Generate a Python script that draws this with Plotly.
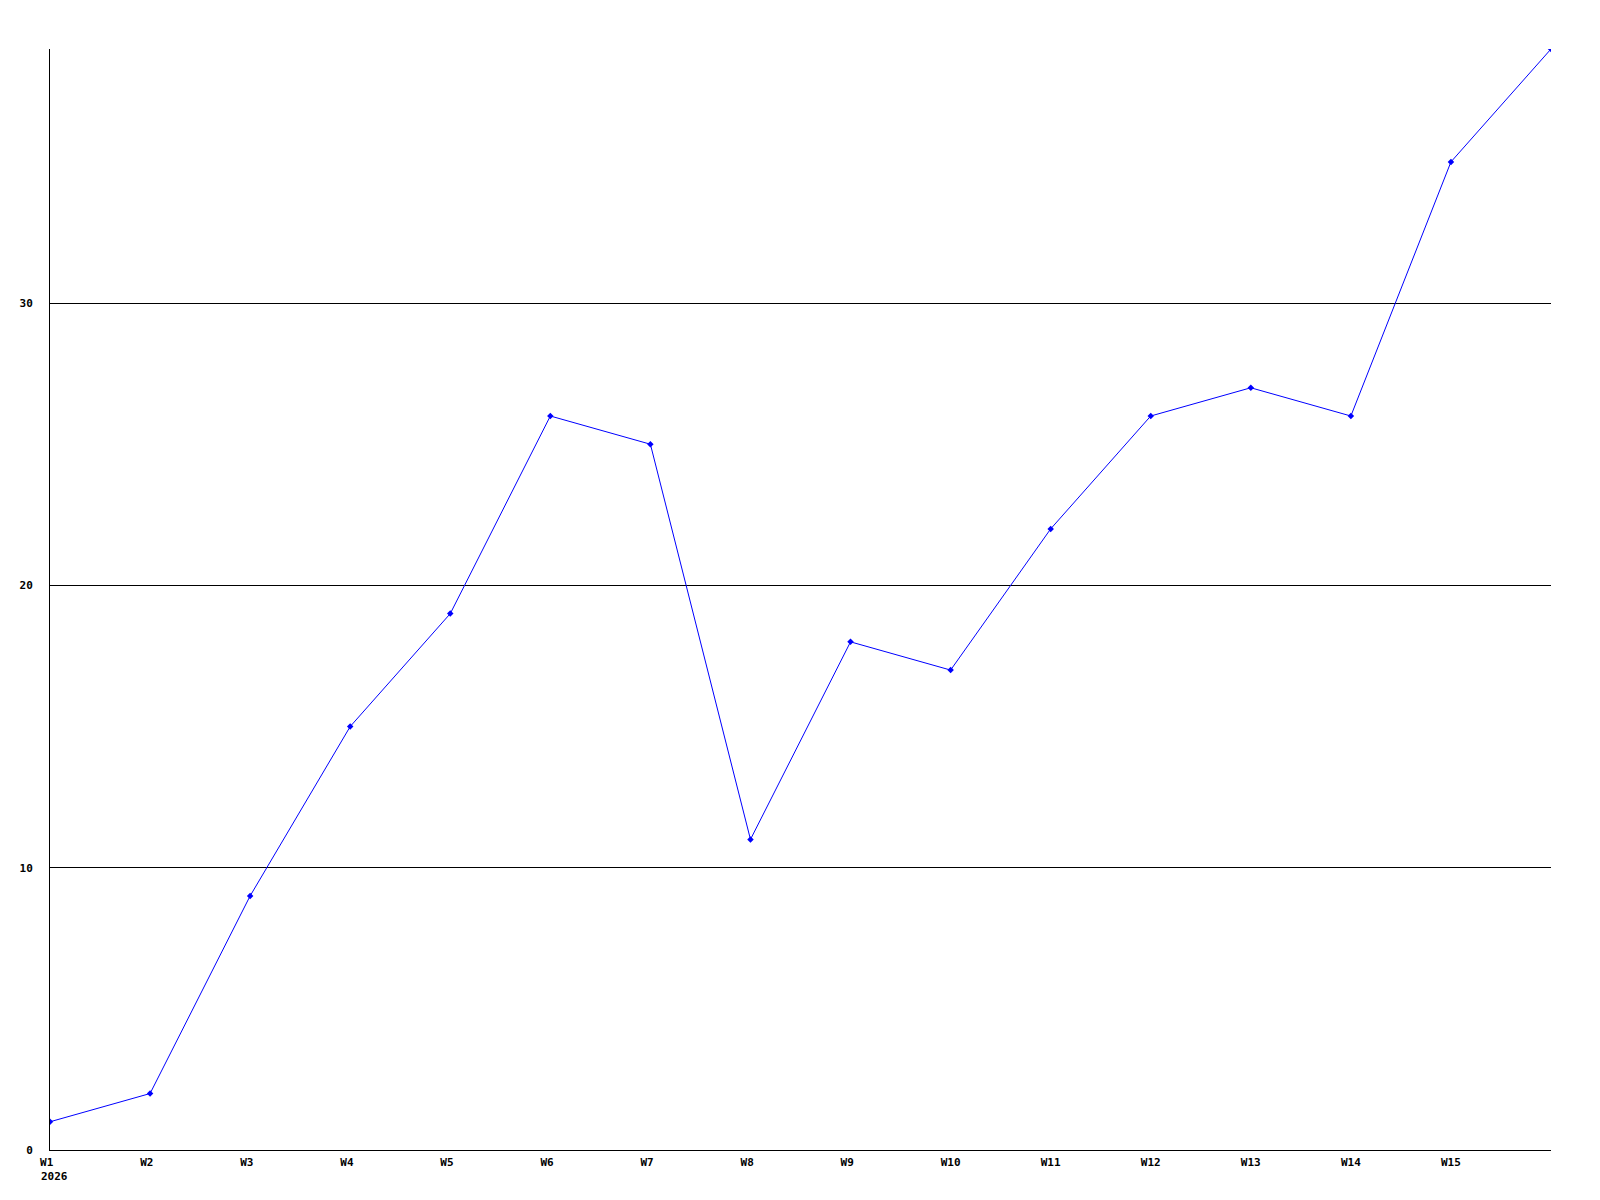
import plotly.graph_objects as go

weeks = ["W1", "W2", "W3", "W4", "W5", "W6", "W7", "W8", "W9", "W10",
         "W11", "W12", "W13", "W14", "W15", "W16"]
tick_labels = ["W1", "W2", "W3", "W4", "W5", "W6", "W7", "W8", "W9", "W10",
               "W11", "W12", "W13", "W14", "W15", ""]
values = [1, 2, 9, 15, 19, 26, 25, 11, 18, 17, 22, 26, 27, 26, 35, 39]
y_ticks = [0, 10, 20, 30]
year_label = "2026"

x_idx = list(range(len(weeks)))
font = dict(family="DejaVu Sans Mono", size=11, color="black")

# pad to 3 monospace chars so centred labels start at the same offset
x_text = ["<b>%s</b>" % (t.ljust(3, "\u00a0") if t else "") for t in tick_labels]

fig = go.Figure()
fig.add_trace(go.Scatter(
    x=x_idx, y=values, mode="lines+markers",
    line=dict(color="#0000ff", width=1),
    marker=dict(color="#0000ff", size=5, symbol="diamond"),
    cliponaxis=True, showlegend=False,
    hovertext=weeks,
))

fig.update_layout(
    width=1600, height=1200,
    margin=dict(l=42, r=57, t=41, b=58, autoexpand=False),
    paper_bgcolor="white", plot_bgcolor="white",
    font=font,
)
fig.update_xaxes(
    range=[0, 15], tickmode="array", tickvals=x_idx, ticktext=x_text,
    showgrid=False, zeroline=False, showline=True, linecolor="black", linewidth=1,
    ticks="", ticklabelshift=0, ticklabelstandoff=2, tickfont=font, automargin=False,
)
fig.update_yaxes(
    range=[0, 39], tickmode="array", tickvals=y_ticks, ticktext=["<b>%d</b>" % v for v in y_ticks],
    showgrid=True, gridcolor="black", gridwidth=1, zeroline=False,
    showline=True, linecolor="black", linewidth=1,
    ticks="", ticklabelstandoff=14, tickfont=font, automargin=False,
)
fig.add_annotation(
    x=0, y=0, xref="x", yref="paper", text="<b>%s</b>" % year_label,
    showarrow=False, xanchor="left", yanchor="top", xshift=-11, yshift=-18,
    font=font,
)
fig.write_html("out.html")
